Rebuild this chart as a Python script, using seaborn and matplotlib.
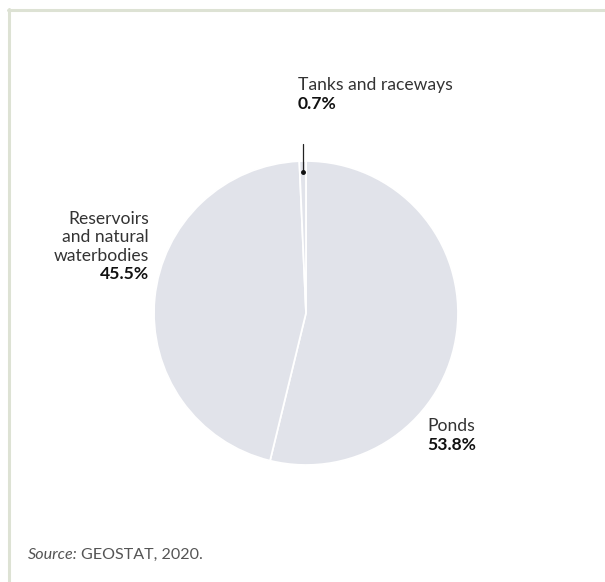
import numpy as np
import matplotlib
matplotlib.use("Agg")
import matplotlib.pyplot as plt
import seaborn as sns
from matplotlib.lines import Line2D

categories = ["Ponds", "Reservoirs\nand natural\nwaterbodies", "Tanks and raceways"]
shares = [53.8, 45.5, 0.7]
pct_labels = ["53.8%", "45.5%", "0.7%"]

sns.set_theme(style="white")
plt.rcParams['font.family'] = ['Lato', 'DejaVu Sans']

W, H = 605, 582
fig = plt.figure(figsize=(W / 100, H / 100), dpi=100)
fig.patch.set_facecolor("white")

def fx(px):
    return px / W

def fy(py):
    return 1 - py / H

cx, cy, r = 306, 313, 152
ax = fig.add_axes([fx(cx - r), fy(cy + r), 2 * r / W, 2 * r / H])
color = "#e1e3ea"
wedges, _ = ax.pie(shares, colors=[color] * len(shares), startangle=90,
                   counterclock=False,
                   wedgeprops=dict(edgecolor="white", linewidth=1.3))
ax.set_xlim(-1, 1)
ax.set_ylim(-1, 1)
ax.axis("off")

text_col = "#333333"
fs = 12.6

# Tanks leader line
w = wedges[2]
mid = np.deg2rad((w.theta1 + w.theta2) / 2)
x0, y0 = 0.93 * np.cos(mid), 0.93 * np.sin(mid)
ax.plot([x0, x0], [y0, 1.115], color="#222222", lw=0.9, clip_on=False)
ax.plot([x0], [y0], marker="o", ms=2.5, color="#111111", clip_on=False)

# Labels
fig.text(fx(298), fy(85), categories[2], ha="left", va="center",
         fontsize=fs, color=text_col)
fig.text(fx(298), fy(104), pct_labels[2], ha="left", va="center",
         fontsize=fs, color="#111111", fontweight="bold")

for i, line in enumerate(categories[1].split("\n")):
    fig.text(fx(149), fy(219 + 18.3 * i), line, ha="right", va="center",
             fontsize=fs, color=text_col)
fig.text(fx(149), fy(274), pct_labels[1], ha="right", va="center",
         fontsize=fs, color="#111111", fontweight="bold")

fig.text(fx(427), fy(426), categories[0], ha="left", va="center",
         fontsize=fs, color=text_col)
fig.text(fx(427), fy(445), pct_labels[0], ha="left", va="center",
         fontsize=fs, color="#111111", fontweight="bold")

# Source
t1 = fig.text(fx(28), fy(555), "Source:", ha="left", va="center",
              fontsize=11.6, color="#555555", style="italic")
fig.canvas.draw()
bb = t1.get_window_extent()
fig.text((bb.x1 + 3) / W, fy(555), "GEOSTAT, 2020.", ha="left", va="center",
         fontsize=11.6, color="#555555")

# Border (top and left)
bc = "#dde2d4"
fig.add_artist(Line2D([fx(8), 1], [fy(10), fy(10)], color=bc, lw=2.2,
                      transform=fig.transFigure))
fig.add_artist(Line2D([fx(9), fx(9)], [fy(9), 0], color=bc, lw=2.2,
                      transform=fig.transFigure))

fig.savefig("out.png", dpi=100, facecolor="white")
